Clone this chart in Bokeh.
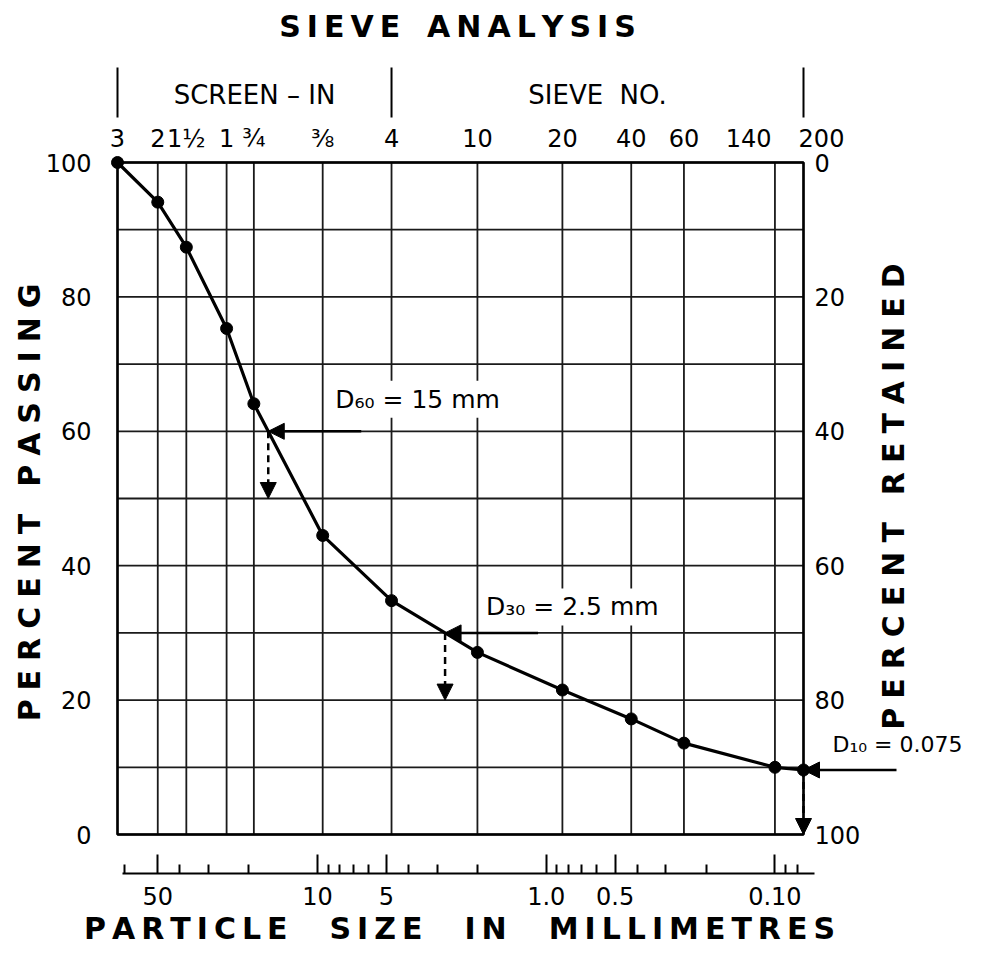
import math
import numpy as np
from bokeh.plotting import figure
from bokeh.models import (Range1d, LinearAxis, LogAxis, FixedTicker, Label, Arrow, NormalHead)
from bokeh.core.properties import value
from bokeh.embed import file_html
from bokeh.resources import INLINE

# ---------------- data ----------------
sieve_labels = ["3", "2", "1½", "1", "¾", "⅜", "4", "10", "20", "40", "60", "140", "200"]
sieve_mm = [75, 50, 37.5, 25, 19, 9.5, 4.75, 2.0, 0.85, 0.425, 0.25, 0.1, 0.075]
percent_passing = [100, 94.1, 87.4, 75.3, 64.1, 44.5, 34.8, 27.1, 21.5, 17.2, 13.6, 10.0, 9.6]

group_bounds_mm = [75, 4.75, 0.075]
group_labels = ["SCREEN – IN", "SIEVE\u00a0 NO."]

mm_major = [50, 10, 5, 1.0, 0.5, 0.1]
mm_major_labels = ["50", "10", "5", "1.0", "0.5", "0.10"]
mm_minor = [70, 40, 30, 20, 9, 8, 7, 6, 4, 3, 2, 0.9, 0.8, 0.7, 0.6, 0.4, 0.3, 0.2, 0.09, 0.08]

pct_ticks = [0, 20, 40, 60, 80, 100]
pct_grid = [0, 10, 20, 30, 40, 50, 60, 70, 80, 90, 100]

d_percents = [60, 30]
d_texts = ["D\u2086\u2080 = 15 mm", "D\u2083\u2080 = 2.5 mm"]
d10_size = 0.075
d10_text = "D\u2081\u2080 = 0.075"

# ---------------- layout (canvas pixels) ----------------
W, H = 982, 947
BOX_L, BOX_R, BOX_T, BOX_B = 117, 803, 162, 834      # the drawn chart box
PXD = (BOX_R - BOX_L) / math.log10(sieve_mm[0] / sieve_mm[-1])   # px per decade
PXU = (BOX_B - BOX_T) / 100.0                                    # px per percent

FONT = "DejaVu Sans"
BLACK = "black"


def x_at(cx):
    """data x (mm) at canvas x"""
    return sieve_mm[0] / 10 ** ((cx - BOX_L) / PXD)


def y_at(cy):
    """data y (percent) at canvas y"""
    return (BOX_B - cy) / PXU


def shift(x, px):
    """move a data x by px screen pixels to the right (axis is reversed)"""
    return x / 10 ** (px / PXD)


def spaced(s, letter_sep="\u2009", word_sep="\u2009\u2002\u2009"):
    return word_sep.join(letter_sep.join(w) for w in s.split(" "))


p = figure(width=W, height=H, x_axis_type="log",
           x_range=Range1d(x_at(0), x_at(W)), y_range=Range1d(y_at(H), y_at(0)),
           x_axis_location=None, y_axis_location=None,
           toolbar_location=None, output_backend="svg", title=None,
           min_border=0, min_border_left=0, min_border_right=0,
           min_border_top=0, min_border_bottom=0)
p.background_fill_color = "white"
p.border_fill_color = "white"
p.outline_line_color = None
for g in p.grid:
    g.visible = False


def style(ax, size="24px"):
    ax.axis_line_color = None
    ax.major_tick_line_color = None
    ax.minor_tick_line_color = None
    ax.major_tick_in = 0
    ax.major_tick_out = 0
    ax.minor_tick_in = 0
    ax.minor_tick_out = 0
    ax.major_label_text_font = FONT
    ax.major_label_text_font_size = size
    ax.major_label_text_color = BLACK


# left axis (percent passing)
left = LinearAxis(ticker=FixedTicker(ticks=pct_ticks), fixed_location=sieve_mm[0])
style(left)
left.major_label_standoff = 26
p.add_layout(left, "left")

# right axis (percent retained)
right = LinearAxis(ticker=FixedTicker(ticks=pct_ticks), fixed_location=sieve_mm[-1],
                   major_label_overrides={t: str(100 - t) for t in pct_ticks})
style(right)
right.major_label_standoff = 11
p.add_layout(right, "right")

# top axis: sieve numbers
sieve_tick_labels = list(sieve_labels)
sieve_tick_labels[-2] = sieve_tick_labels[-2] + "\u2003\u2003\u2009"
sieve_tick_labels[-1] = "\u2003\u2002" + sieve_tick_labels[-1]
sieve_axis = LogAxis(ticker=FixedTicker(ticks=sieve_mm), fixed_location=pct_grid[-1],
                     major_label_overrides=dict(zip(sieve_mm, sieve_tick_labels)))
style(sieve_axis)
sieve_axis.major_label_standoff = 10
p.add_layout(sieve_axis, "above")

# bottom axis: particle size in millimetres
mm_axis = LogAxis(ticker=FixedTicker(ticks=mm_major, minor_ticks=mm_minor),
                  fixed_location=y_at(873),
                  major_label_overrides=dict(zip(mm_major, mm_major_labels)),
                  bounds=(x_at(122), x_at(814)))
style(mm_axis)
mm_axis.axis_line_color = BLACK
mm_axis.axis_line_width = 2
mm_axis.major_tick_line_color = BLACK
mm_axis.minor_tick_line_color = BLACK
mm_axis.major_tick_line_width = 2
mm_axis.minor_tick_line_width = 2
mm_axis.major_tick_in = 19
mm_axis.minor_tick_in = 9
mm_axis.major_label_standoff = 13
p.add_layout(mm_axis, "below")

# ---------------- group header (screen / sieve) ----------------
logs = np.log10(group_bounds_mm)
group_mid = [float(10 ** ((logs[i] + logs[i + 1]) / 2)) for i in range(len(logs) - 1)]
p.segment(x0=group_bounds_mm, y0=[y_at(67)] * 3, x1=group_bounds_mm, y1=[y_at(117)] * 3,
          line_color=BLACK, line_width=2)
p.text(x=group_mid, y=[y_at(94)] * len(group_mid), text=group_labels,
       text_font=value(FONT), text_font_size="26px", text_color=BLACK,
       text_align="center", text_baseline="middle")


# ---------------- titles ----------------
def title(text, cx, cy, angle=0.0):
    p.add_layout(Label(x=x_at(cx), y=y_at(cy), text=text, angle=angle,
                       text_align="center", text_baseline="middle",
                       text_font=FONT, text_font_style="bold", text_font_size="30px",
                       text_color=BLACK))


title(spaced("SIEVE ANALYSIS"), 457, 26)
title(spaced("PARTICLE SIZE IN MILLIMETRES", "\u2009", "\u2009\u2003\u2009"), 459, 928)
title(spaced("PERCENT PASSING", "\u2009\u200a"), 29, 502, math.pi / 2)
title(spaced("PERCENT RETAINED", "\u2009\u200a"), 893, 496, math.pi / 2)

# ---------------- grid and box ----------------
n_s, n_p = len(sieve_mm), len(pct_grid)
p.segment(x0=sieve_mm, y0=[pct_grid[0]] * n_s, x1=sieve_mm, y1=[pct_grid[-1]] * n_s,
          line_color="#1a1a1a", line_width=1.8)
p.segment(x0=[sieve_mm[0]] * n_p, y0=pct_grid, x1=[sieve_mm[-1]] * n_p, y1=pct_grid,
          line_color="#1a1a1a", line_width=1.8)
p.quad(left=[sieve_mm[0]], right=[sieve_mm[-1]], bottom=[pct_grid[0]], top=[pct_grid[-1]],
       fill_color=None, line_color=BLACK, line_width=2.5)

# ---------------- curve ----------------
p.line(sieve_mm, percent_passing, line_color=BLACK, line_width=3.2)
p.scatter(sieve_mm, percent_passing, size=12, fill_color=BLACK, line_color=BLACK)

# ---------------- D60 / D30 / D10 ----------------
lg = np.log10(sieve_mm)[::-1]
pp = np.array(percent_passing)[::-1]


def head():
    return NormalHead(size=16, fill_color=BLACK, line_color=BLACK)


def annotate(d, pct, y_end, text, xoff, yoff, size="25px", box=True):
    p.add_layout(Arrow(end=head(), x_start=shift(d, 93), y_start=pct, x_end=d, y_end=pct,
                       line_color=BLACK, line_width=2.5))
    p.add_layout(Arrow(end=head(), x_start=d, y_start=pct, x_end=d, y_end=y_end,
                       line_color=BLACK, line_width=2.5, line_dash="7 5"))
    p.add_layout(Label(x=d, y=pct, x_offset=xoff, y_offset=yoff, text=text,
                       text_font=FONT, text_font_size=size, text_color=BLACK,
                       text_baseline="middle",
                       background_fill_color="white" if box else None, padding=4))


d_offsets = [(63, 32), (37, 26)]
for pct, txt, (xo, yo) in zip(d_percents, d_texts, d_offsets):
    d = float(10 ** np.interp(pct, pp, lg))
    annotate(d, pct, pct - 10, txt, xo, yo)

d10_pct = float(np.interp(math.log10(d10_size), lg, pp))
annotate(d10_size, d10_pct, 0, d10_text, 25, 25, size="22px", box=False)

open("out.html", "w").write(file_html(p, INLINE))
